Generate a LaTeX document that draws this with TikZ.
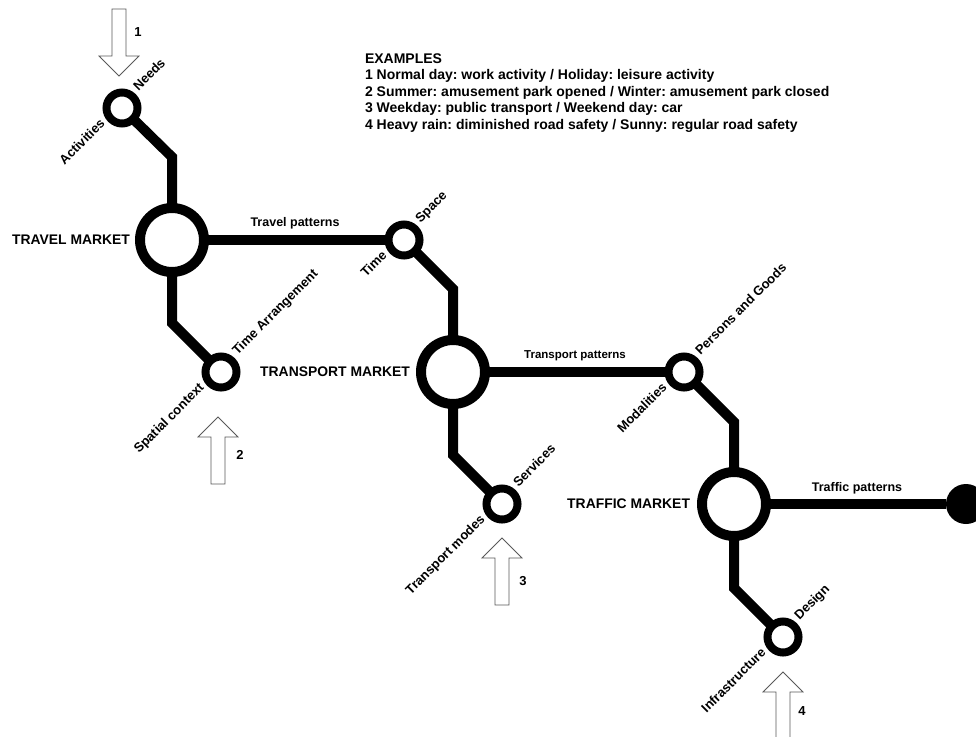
\documentclass[tikz,border=0pt]{standalone}
\usepackage{fontspec}
\setmainfont{Liberation Sans}
\usetikzlibrary{calc}
\frenchspacing
\begin{document}
\begin{tikzpicture}[x=1pt,y=-1pt,
  every node/.style={inner sep=0pt, outer sep=0pt},
  bigstop/.style={circle, draw, line width=10pt, minimum size=64pt},
  stop/.style={circle, draw, line width=8pt, minimum size=31pt},
  endstop/.style={circle, fill, minimum size=40pt},
  track/.style={line width=10pt, line join=miter},
  market/.style={font=\bfseries\fontsize{13.9}{16}\selectfont},
  lab/.style={font=\bfseries\fontsize{13}{15}\selectfont, rotate=45},
  pat/.style={font=\bfseries\fontsize{12.5}{15}\selectfont},
  ex/.style={font=\bfseries\fontsize{14}{16.5}\selectfont, anchor=base west},
  num/.style={font=\bfseries\fontsize{13}{15}\selectfont},
  arrowline/.style={draw=black!65, line width=0.8pt, fill=white},
  inarrow/.pic={\path[arrowline] (0,0) -- (20,20) -- (7,20) -- (7,67) -- (-7,67) -- (-7,20) -- (-20,20) -- cycle;}
]
\fill[white] (0,0) rectangle (976,736);
\useasboundingbox (0,0) rectangle (976,736);

% stations
\node[stop] (c1) at (122,108) {};
\node[bigstop] (tm) at (172,240) {};
\node[stop] (ts) at (404,240) {};
\node[stop] (sc) at (221,372) {};
\node[bigstop] (trm) at (453,372) {};
\node[stop] (mo) at (684,372) {};
\node[stop] (sv) at (502,504) {};
\node[bigstop] (tfm) at (734,504) {};
\node[stop] (ds) at (783,637) {};
\node[endstop] (end) at (966,504) {};

% bends
\coordinate (k1) at (172,157);
\coordinate (k2) at (453,289);
\coordinate (k3) at (172,323);
\coordinate (k4) at (453,455);
\coordinate (k5) at (734,422);
\coordinate (k6) at (734,588);

% tracks
\draw[track] (c1) -- (k1) -- (tm);
\draw[track] (tm) -- (ts);
\draw[track] (ts) -- (k2) -- (trm);
\draw[track] (tm) -- (k3) -- (sc);
\draw[track] (trm) -- (mo);
\draw[track] (trm) -- (k4) -- (sv);
\draw[track] (mo) -- (k5) -- (tfm);
\draw[track] (tfm) -- (k6) -- (ds);
\draw[track] (tfm) -- (end);

% market labels
\node[market, anchor=east] (tmlab) at (130,240) {TRAVEL MARKET};
\node[market, anchor=east] (trmlab) at (410,372) {TRANSPORT MARKET};
\node[market, anchor=east] (tfmlab) at (690,504) {TRAFFIC MARKET};

% pattern labels
\node[pat] (p1) at (295,223) {Travel patterns};
\node[pat, font=\bfseries\fontsize{11.5}{14}\selectfont] (p2) at (575,355.5) {Transport patterns};
\node[pat] (p3) at (857,488) {Traffic patterns};

% station labels
\node[lab, anchor=base west] (l1a) at ($(c1)+(16.5,-16.5)$) {Needs};
\node[lab, anchor=base east] (l1b) at ($(c1)+(-16.5,16.5)$) {Activities};
\node[lab, anchor=base west] (l2a) at ($(ts)+(16.5,-16.5)$) {Space};
\node[lab, anchor=base east] (l2b) at ($(ts)+(-16.5,16.5)$) {Time};
\node[lab, anchor=base west] (l3a) at ($(sc)+(16.5,-16.5)$) {Time Arrangement};
\node[lab, anchor=base east] (l3b) at ($(sc)+(-16.5,16.5)$) {Spatial context};
\node[lab, anchor=base west] (l4a) at ($(mo)+(16.5,-16.5)$) {Persons and Goods};
\node[lab, anchor=base east] (l4b) at ($(mo)+(-16.5,16.5)$) {Modalities};
\node[lab, anchor=base west] (l5a) at ($(sv)+(16.5,-16.5)$) {Services};
\node[lab, anchor=base east] (l5b) at ($(sv)+(-16.5,16.5)$) {Transport modes};
\node[lab, anchor=base west] (l6a) at ($(ds)+(16.5,-16.5)$) {Design};
\node[lab, anchor=base east] (l6b) at ($(ds)+(-16.5,16.5)$) {Infrastructure};

% input arrows
\pic[rotate=180] at (119,76) {inarrow};
\pic at (218,417) {inarrow};
\pic at (502,538) {inarrow};
\pic at (783,672) {inarrow};
\node[num] (n1) at (138,32) {1};
\node[num] (n2) at (240,455) {2};
\node[num] (n3) at (523,581) {3};
\node[num] (n4) at (802,711) {4};

% examples
\node[ex] (e0) at (365,63) {EXAMPLES};
\node[ex] (e1) at (365,79.5) {1 Normal day: work activity / Holiday: leisure activity};
\node[ex] (e2) at (365,96) {2 Summer: amusement park opened / Winter: amusement park closed};
\node[ex] (e3) at (365,112.5) {3 Weekday: public transport / Weekend day: car};
\node[ex] (e4) at (365,129) {4 Heavy rain: diminished road safety / Sunny: regular road safety};
\end{tikzpicture}
\end{document}
